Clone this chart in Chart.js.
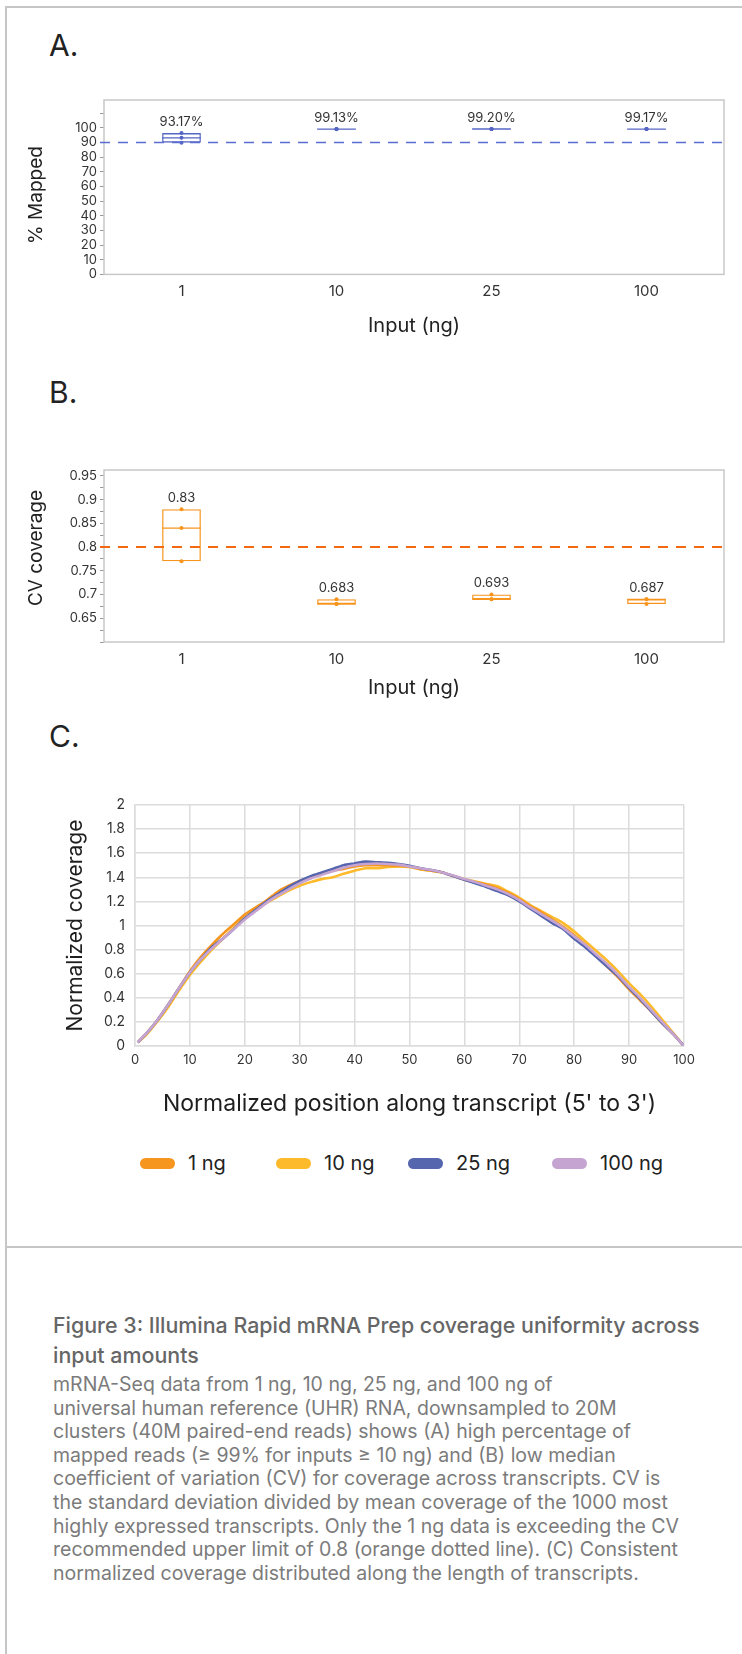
<!DOCTYPE html>
<html>
<head>
<meta charset="utf-8">
<script src="https://cdn.jsdelivr.net/npm/chart.js@4.4.1/dist/chart.umd.min.js"></script>
<style>
  body { margin: 0; background: #fff; font-family: Inter, 'Noto Sans', sans-serif; }
  #page { position: relative; width: 742px; height: 1654px; overflow: hidden; }
  .rule { position: absolute; background: #c6c6c6; }
  .letter { position: absolute; left: 49px; font-size: 30px; line-height: 30px; color: #222; }
  .ytitle { position: absolute; width: 200px; height: 24px; line-height: 24px; text-align: center;
            font-size: 19px; color: #222; transform: rotate(-90deg); white-space: nowrap; }
  canvas { position: absolute; left: 0; }
  #legendC .item { position: absolute; top: 1151px; display: flex; align-items: center; font-size: 20px; line-height: 24px; color: #222; white-space: nowrap; }
  #legendC .item:nth-child(1) { left: 140px; }
  #legendC .item:nth-child(2) { left: 276px; }
  #legendC .item:nth-child(3) { left: 408px; }
  #legendC .item:nth-child(4) { left: 552px; }
  #legendC .swatch { display: inline-block; width: 35px; height: 11px; border-radius: 6px; margin-right: 13px; }
  .cap-title { position: absolute; left: 53px; top: 1310px; font-size: 21.4px; line-height: 30px; font-weight: 500; color: #666; white-space: nowrap; }
  .cap-body { position: absolute; left: 53px; top: 1373px; font-size: 19.5px; line-height: 23.6px; color: #7b7b7b; white-space: nowrap; }
</style>
</head>
<body>
<div id="page">
  <div class="rule" style="left:5px; top:6px; width:2px; height:1648px;"></div>
  <div class="rule" style="left:5px; top:6px; width:737px; height:2px;"></div>
  <div class="rule" style="left:5px; top:1246px; width:737px; height:2px;"></div>

  <div class="letter" style="top:30px;">A.</div>
  <div class="letter" style="top:377px;">B.</div>
  <div class="letter" style="top:721px;">C.</div>

  <canvas id="chartA" width="742" height="290" style="top:60px;"></canvas>
  <canvas id="chartB" width="742" height="290" style="top:430px;"></canvas>
  <canvas id="chartC" width="742" height="380" style="top:760px;"></canvas>
  <div class="ytitle" style="left:-64px; top:183px;">% Mapped</div>
  <div class="ytitle" style="left:-64px; top:536px;">CV coverage</div>
  <div id="legendC"></div>

  <div class="cap-title">Figure 3: Illumina Rapid mRNA Prep coverage uniformity across<br>input amounts</div>
  <div class="cap-body">mRNA-Seq data from 1 ng, 10 ng, 25 ng, and 100 ng of<br>universal human reference (UHR) RNA, downsampled to 20M<br>clusters (40M paired-end reads) shows (A) high percentage of<br>mapped reads (≥ 99% for inputs ≥ 10 ng) and (B) low median<br>coefficient of variation (CV) for coverage across transcripts. CV is<br>the standard deviation divided by mean coverage of the 1000 most<br>highly expressed transcripts. Only the 1 ng data is exceeding the CV<br>recommended upper limit of 0.8 (orange dotted line). (C) Consistent<br>normalized coverage distributed along the length of transcripts.</div>
</div>

<script>
// ---- data: panel A / B (three replicates per input amount)
const inputLabels = ['1', '10', '25', '100'];

const mappedReps = [
    [89.9, 93.2, 96.4],
    [99.08, 99.13, 99.18],
    [99.16, 99.2, 99.24],
    [99.13, 99.17, 99.21]
];
const mappedMean = [93.17, 99.13, 99.20, 99.17];
const mappedTicks = [0, 10, 20, 30, 40, 50, 60, 70, 80, 90, 100, 110];
const mappedTickLabels = ['0', '10', '20', '30', '40', '50', '60', '70', '80', '90', '100', ''];
const mappedThreshold = 90;

const cvReps = [
    [0.77, 0.84, 0.88],
    [0.68, 0.68, 0.69],
    [0.69, 0.69, 0.70],
    [0.68, 0.69, 0.69]
];
const cvMean = [0.83, 0.683, 0.693, 0.687];
const cvTicks = [0.6, 0.625, 0.65, 0.675, 0.7, 0.725, 0.75, 0.775, 0.8, 0.825, 0.85, 0.875, 0.9, 0.925, 0.95];
const cvTickLabels = ['', '', '0.65', '', '0.7', '', '0.75', '', '0.8', '', '0.85', '', '0.9', '', '0.95'];
const cvThreshold = 0.8;

// ---- data: panel C
const seriesNames = ['1 ng', '10 ng', '25 ng', '100 ng'];
const seriesColors = ['#f7961f', '#fdbb2b', '#5565ae', '#c5a4d2'];
const positions = [0.5, 2, 4, 6, 8, 10, 12, 14, 16, 18, 20, 22, 24, 26, 28, 30, 32, 34, 36, 38, 40,
    42, 44, 46, 48, 50, 52, 54, 56, 58, 60, 62, 64, 66, 68, 70, 72, 74, 76, 78, 80,
    82, 84, 86, 88, 90, 92, 94, 96, 98, 100];
const coverage1ng = [0.03, 0.1, 0.21, 0.34, 0.48, 0.62, 0.74, 0.84, 0.93, 1.01, 1.09, 1.15, 1.21, 1.28, 1.33, 1.37, 1.40, 1.43, 1.455, 1.47, 1.49,
    1.5, 1.5, 1.5, 1.495, 1.49, 1.47, 1.455, 1.44, 1.41, 1.38, 1.36, 1.34, 1.31, 1.27, 1.22, 1.16, 1.11, 1.05, 0.99, 0.92,
    0.84, 0.75, 0.66, 0.57, 0.47, 0.38, 0.29, 0.19, 0.1, 0.0];
const coverage10ng = [0.03, 0.09, 0.2, 0.32, 0.46, 0.59, 0.7, 0.8, 0.89, 0.98, 1.06, 1.13, 1.19, 1.24, 1.29, 1.33, 1.36, 1.385, 1.40, 1.43, 1.455,
    1.475, 1.475, 1.485, 1.49, 1.485, 1.465, 1.455, 1.44, 1.41, 1.385, 1.365, 1.345, 1.325, 1.28, 1.23, 1.17, 1.12, 1.07, 1.02, 0.95,
    0.87, 0.79, 0.71, 0.62, 0.52, 0.43, 0.33, 0.22, 0.11, 0.0];
const coverage25ng = [0.03, 0.1, 0.21, 0.34, 0.48, 0.61, 0.72, 0.82, 0.89, 0.97, 1.06, 1.13, 1.2, 1.26, 1.32, 1.37, 1.41, 1.44, 1.47, 1.50, 1.515,
    1.53, 1.525, 1.52, 1.51, 1.495, 1.475, 1.46, 1.44, 1.41, 1.38, 1.35, 1.32, 1.285, 1.25, 1.2, 1.14, 1.08, 1.02, 0.97, 0.89,
    0.82, 0.74, 0.66, 0.58, 0.48, 0.39, 0.29, 0.19, 0.1, 0.0];
const coverage100ng = [0.03, 0.1, 0.21, 0.34, 0.48, 0.61, 0.72, 0.81, 0.89, 0.97, 1.05, 1.12, 1.19, 1.25, 1.3, 1.35, 1.39, 1.42, 1.45, 1.48, 1.50,
    1.51, 1.515, 1.51, 1.505, 1.49, 1.475, 1.46, 1.44, 1.415, 1.385, 1.36, 1.33, 1.30, 1.26, 1.21, 1.15, 1.095, 1.04, 0.98, 0.91,
    0.84, 0.76, 0.68, 0.59, 0.49, 0.4, 0.3, 0.2, 0.1, 0.0];
const coverageSeries = [coverage1ng, coverage10ng, coverage25ng, coverage100ng];
const drawOrder = [2, 3, 1, 0];

Chart.defaults.font.family = "Inter, 'Noto Sans', sans-serif";
Chart.defaults.color = '#333';

// frame, dashed limit line, medians and mean labels for the box panels
const boxExtras = {
    id: 'boxExtras',
    afterDatasetsDraw(chart, args, opts) {
        const { ctx, chartArea } = chart;
        const y = chart.scales.y;
        const boxes = chart.getDatasetMeta(0).data;

        ctx.save();
        ctx.strokeStyle = '#c8c8c8';
        ctx.lineWidth = 1.5;
        ctx.strokeRect(chartArea.left, chartArea.top, chartArea.right - chartArea.left, chartArea.bottom - chartArea.top);

        // threshold line
        const ty = y.getPixelForValue(opts.threshold);
        ctx.strokeStyle = opts.lineColor;
        ctx.lineWidth = opts.lineWidth;
        ctx.setLineDash([10, 8]);
        ctx.beginPath();
        ctx.moveTo(chartArea.left - 4, ty);
        ctx.lineTo(chartArea.right, ty);
        ctx.stroke();
        ctx.setLineDash([]);

        boxes.forEach((el, i) => {
            const reps = opts.reps[i].slice().sort((a, b) => a - b);
            const half = el.width / 2;
            const my = y.getPixelForValue(reps[1]);
            ctx.strokeStyle = opts.color;
            ctx.lineWidth = 1.3;
            ctx.beginPath();
            ctx.moveTo(el.x - half, my);
            ctx.lineTo(el.x + half, my);
            ctx.stroke();

            const topY = y.getPixelForValue(reps[reps.length - 1]);
            ctx.fillStyle = '#333';
            ctx.font = "13px Inter, 'Noto Sans', sans-serif";
            ctx.textAlign = 'center';
            ctx.textBaseline = 'middle';
            ctx.fillText(opts.format(opts.means[i]), el.x, topY - 11);
        });
        ctx.restore();
    }
};

function makeBoxChart(id, cfg) {
    const boxData = cfg.reps.map(r => [Math.min(...r), Math.max(...r)]);
    const pointSets = [0, 1, 2].map(k => ({
        type: 'line',
        data: cfg.reps.map(r => r[k]),
        showLine: false,
        pointRadius: 2,
        pointBackgroundColor: cfg.color,
        pointBorderWidth: 0,
        order: 1
    }));

    return new Chart(document.getElementById(id), {
        type: 'bar',
        data: {
            labels: inputLabels,
            datasets: [{
                type: 'bar',
                data: boxData,
                backgroundColor: 'rgba(0,0,0,0)',
                borderColor: cfg.color,
                borderWidth: 1.3,
                borderSkipped: false,
                barPercentage: 0.25,
                categoryPercentage: 1,
                order: 2
            }, ...pointSets]
        },
        options: {
            responsive: false,
            animation: false,
            layout: { padding: { top: 40, right: 18, bottom: cfg.padBottom, left: 0 } },
            plugins: {
                legend: { display: false },
                tooltip: { enabled: false },
                boxExtras: {
                    reps: cfg.reps,
                    means: cfg.means,
                    format: cfg.format,
                    threshold: cfg.threshold,
                    color: cfg.color,
                    lineColor: cfg.lineColor,
                    lineWidth: cfg.lineWidth
                }
            },
            scales: {
                x: {
                    grid: { display: false, drawTicks: false },
                    border: { display: false },
                    ticks: { color: '#333', font: { size: 15 }, padding: 8 },
                    title: { display: true, text: 'Input (ng)', color: '#222', font: { size: 20 }, padding: 0 },
                    afterFit: s => { s.height = cfg.xHeight; }
                },
                y: {
                    min: cfg.min,
                    max: cfg.max,
                    afterBuildTicks: axis => { axis.ticks = cfg.ticks.map(v => ({ value: v })); },
                    grid: { drawOnChartArea: false, drawTicks: true, tickLength: 4, color: '#999' },
                    border: { display: false },
                    ticks: {
                        autoSkip: false,
                        padding: 3,
                        color: '#333',
                        font: { size: 13 },
                        callback: (v, i) => cfg.tickLabels[i]
                    },
                    afterFit: s => { s.width = 104; }
                }
            }
        },
        plugins: [boxExtras]
    });
}

makeBoxChart('chartA', {
    reps: mappedReps,
    means: mappedMean,
    format: v => v.toFixed(2) + '%',
    ticks: mappedTicks,
    tickLabels: mappedTickLabels,
    threshold: mappedThreshold,
    min: 0,
    max: 119,
    color: '#5566c4',
    lineColor: '#5a6dd2',
    lineWidth: 1.5,
    xHeight: 64,
    padBottom: 11.6
});

makeBoxChart('chartB', {
    reps: cvReps,
    means: cvMean,
    format: v => String(v),
    ticks: cvTicks,
    tickLabels: cvTickLabels,
    threshold: cvThreshold,
    min: 0.6,
    max: 0.9625,
    color: '#f7941d',
    lineColor: '#f2690f',
    lineWidth: 2,
    xHeight: 58,
    padBottom: 20
});

new Chart(document.getElementById('chartC'), {
    type: 'line',
    data: {
        datasets: seriesNames.map((name, i) => ({
            label: name,
            data: positions.map((x, j) => ({ x: x, y: coverageSeries[i][j] })),
            borderColor: seriesColors[i],
            backgroundColor: seriesColors[i],
            borderWidth: 2.6,
            pointRadius: 0,
            tension: 0.25,
            order: drawOrder[i]
        }))
    },
    options: {
        responsive: false,
        animation: false,
        layout: { padding: { top: 45, right: 58, bottom: 22, left: 0 } },
        plugins: { legend: { display: false }, tooltip: { enabled: false } },
        scales: {
            x: {
                type: 'linear',
                min: 0,
                max: 100,
                ticks: { stepSize: 10, color: '#333', font: { size: 13 }, padding: 6 },
                grid: { color: '#dcdcdc', lineWidth: 1.5, drawTicks: false },
                border: { color: '#dcdcdc', width: 1.5 },
                title: { display: true, text: "Normalized position along transcript (5' to 3')", color: '#1e1e1e', font: { size: 23 }, padding: 0 },
                afterFit: s => { s.height = 72; }
            },
            y: {
                min: 0,
                max: 2,
                ticks: {
                    stepSize: 0.2,
                    color: '#333',
                    font: { size: 14 },
                    padding: 10,
                    callback: v => String(Number(v.toFixed(1)))
                },
                grid: { color: '#dcdcdc', lineWidth: 1.5, drawTicks: false },
                border: { color: '#dcdcdc', width: 1.5 },
                title: { display: true, text: 'Normalized coverage', color: '#1e1e1e', font: { size: 21 }, padding: { top: 63, bottom: 0 } },
                afterFit: s => { s.width = 135; }
            }
        }
    }
});

// legend for panel C
const legendC = document.getElementById('legendC');
seriesNames.forEach((name, i) => {
    const item = document.createElement('div');
    item.className = 'item';
    item.innerHTML = `<span class="swatch" style="background:${seriesColors[i]}"></span>${name}`;
    legendC.appendChild(item);
});
</script>
</body>
</html>
